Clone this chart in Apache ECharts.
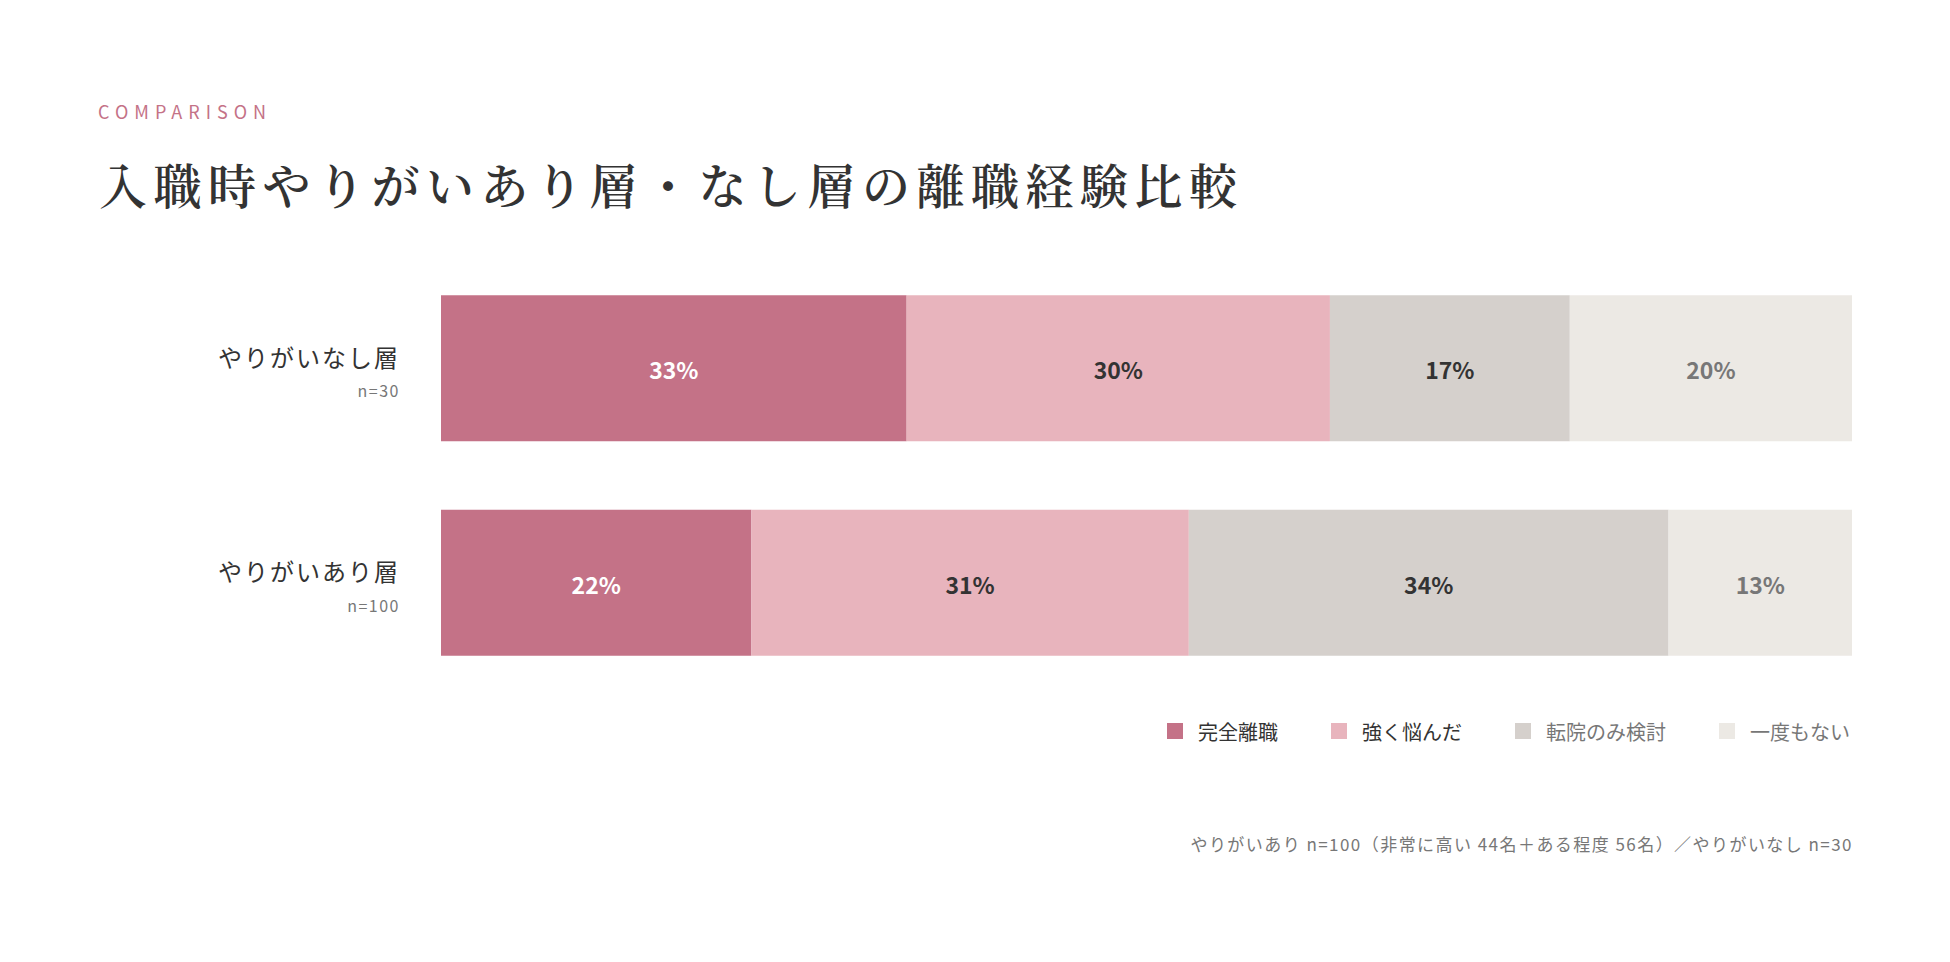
<!DOCTYPE html>
<html>
<head>
<meta charset="utf-8">
<title>入職時やりがいあり層・なし層の離職経験比較</title>
<script src="https://cdn.jsdelivr.net/npm/echarts@6/dist/echarts.min.js"></script>
<style>
    html, body { margin: 0; padding: 0; background: #ffffff; }
    #chart { width: 1950px; height: 962px; }
</style>
</head>
<body>
<div id="chart"></div>
<script>
// ------------------------------ データ -----------------------------------------
var categories = ['やりがいなし層', 'やりがいあり層'];
var sampleSizes = ['n=30', 'n=100'];
var seriesNames = ['完全離職', '強く悩んだ', '転院のみ検討', '一度もない'];
var fullQuit = [33, 22];      // 完全離職
var strongWorry = [30, 31];   // 強く悩んだ
var considered = [17, 34];    // 転院のみ検討
var never = [20, 13];         // 一度もない

var kicker = 'COMPARISON';
var mainTitle = '入職時やりがいあり層・なし層の離職経験比較';
var footnote = 'やりがいあり n=100（非常に高い 44名＋ある程度 56名）／やりがいなし n=30';

var colors = ['#c47287', '#e8b4bd', '#d5d0cc', '#ece9e4'];
var labelColors = ['#ffffff', '#333333', '#333333', '#777777'];
var legendColors = ['#333333', '#333333', '#777777', '#777777'];
var font = '"Noto Sans CJK JP", "Noto Sans", sans-serif';

// 字間（SVG 描画後に付与）
var spacing = {};
spacing[kicker] = 6;
spacing[mainTitle] = 6.5;
spacing[footnote] = 1.45;
categories.forEach(function (c) { spacing[c] = 2; });
sampleSizes.forEach(function (s) { spacing[s] = 1.5; });

var chartDom = document.getElementById('chart');
var myChart = echarts.init(chartDom, null, { renderer: 'svg' });
var option;

function makeSeries(idx, data) {
    return {
        name: seriesNames[idx],
        type: 'bar',
        stack: 'total',
        barWidth: 146,
        data: data,
        itemStyle: { color: colors[idx] },
        label: {
            show: true,
            position: 'inside',
            offset: [0, 1],
            formatter: '{c}%',
            color: labelColors[idx],
            fontFamily: font,
            fontWeight: 'bold',
            fontSize: 23
        },
        emphasis: { disabled: true }
    };
}

option = {
    backgroundColor: '#ffffff',
    animation: false,
    title: [
        {
            text: kicker,
            left: 98,
            top: 102,
            padding: 0,
            textStyle: {
                color: '#c47287',
                fontFamily: font,
                fontWeight: 'normal',
                fontSize: 18
            }
        },
        {
            text: mainTitle,
            left: 99,
            top: 159,
            padding: 0,
            textStyle: {
                color: '#333333',
                fontFamily: '"Noto Serif CJK JP", "Noto Sans CJK JP", serif',
                fontWeight: 600,
                fontSize: 48
            }
        },
        {
            // 右揃え（text-anchor: end）にして字間を付けても右端がずれないようにする
            text: footnote,
            right: 'right',
            top: 835,
            padding: [0, 97, 0, 0],
            textStyle: {
                color: '#777777',
                fontFamily: font,
                fontWeight: 'normal',
                fontSize: 17
            }
        }
    ],
    legend: {
        right: 100,
        top: 721,
        padding: 0,
        icon: 'rect',
        itemWidth: 16,
        itemHeight: 16,
        itemGap: 53,
        selectedMode: false,
        data: seriesNames.map(function (name, i) {
            return { name: name, textStyle: { color: legendColors[i] } };
        }),
        textStyle: {
            fontFamily: font,
            fontSize: 20,
            padding: [0, 0, 0, 10]
        }
    },
    grid: {
        left: 441,
        right: 98,
        top: 261,
        bottom: 272,
        containLabel: false
    },
    xAxis: {
        type: 'value',
        min: 0,
        max: 100,
        show: false
    },
    yAxis: {
        type: 'category',
        inverse: true,
        data: categories,
        axisLine: { show: false },
        axisTick: { show: false },
        axisLabel: {
            margin: 41,
            formatter: function (value, i) {
                return '{name|' + value + '}\n{n|' + sampleSizes[i] + '}';
            },
            rich: {
                name: {
                    fontFamily: font,
                    fontSize: 24,
                    color: '#333333',
                    lineHeight: 44,
                    align: 'right'
                },
                n: {
                    fontFamily: font,
                    fontSize: 16,
                    color: '#777777',
                    lineHeight: 24,
                    align: 'right'
                }
            }
        }
    },
    series: [
        makeSeries(0, fullQuit),
        makeSeries(1, strongWorry),
        makeSeries(2, considered),
        makeSeries(3, never)
    ]
};

option && myChart.setOption(option);

// 見出し・ラベルに字間を付ける
function applySpacing() {
    var texts = chartDom.querySelectorAll('text');
    for (var i = 0; i < texts.length; i++) {
        var s = spacing[texts[i].textContent];
        if (s) {
            texts[i].setAttribute('letter-spacing', s);
        }
    }
}
applySpacing();
myChart.on('finished', applySpacing);

window.onresize = function () {
    myChart.resize();
};
</script>
</body>
</html>
